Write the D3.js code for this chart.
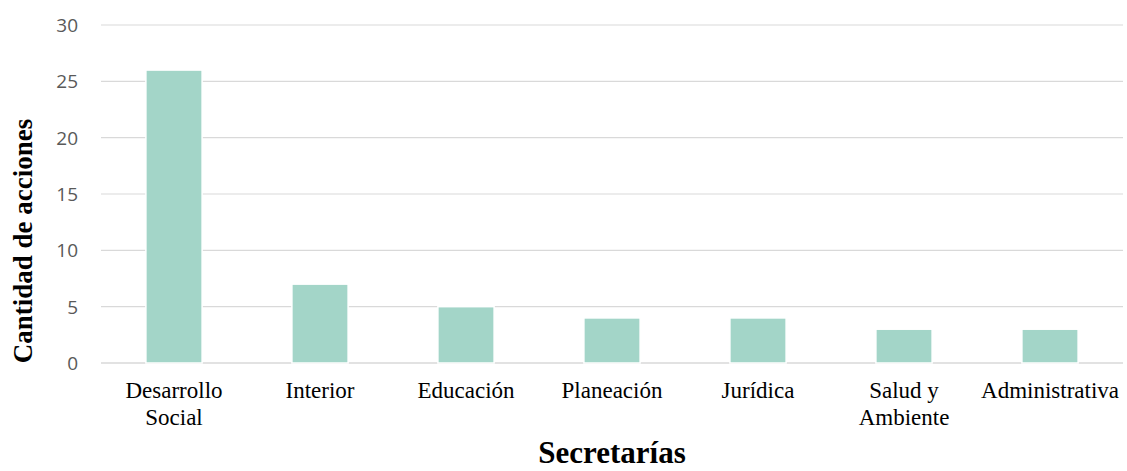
<!DOCTYPE html>
<html>
<head>
    <meta charset="utf-8">
    <title>Secretarías</title>
    <script src="https://cdnjs.cloudflare.com/ajax/libs/d3/7.8.5/d3.min.js"></script>
</head>
<body style="margin:0">
<style>
    body { background: #fff; }
    .ytick text { font-family: "Open Sans", sans-serif; font-size: 19px; fill: #595959; }
    .xlab { font-family: "Liberation Serif", "Times New Roman", serif; font-size: 23px; fill: #000; }
    .title { font-family: "Liberation Serif", "Times New Roman", serif; font-weight: bold; fill: #000; }
</style>
<script>
    const categories = [["Desarrollo", "Social"], ["Interior"], ["Educación"], ["Planeación"],
        ["Jurídica"], ["Salud y", "Ambiente"], ["Administrativa"]];
    const values = [26, 7, 5, 4, 4, 3, 3];
    const yTicks = [0, 5, 10, 15, 20, 25, 30];

    const W = 1127, H = 471;
    const margin = {top: 25, right: 4, bottom: 108, left: 101};

    const svg = d3.select("body").append("svg").attr("width", W).attr("height", H);
    const g = svg.append("g").attr("transform", `translate(${margin.left},${margin.top})`);
    const iw = W - margin.left - margin.right;
    const ih = H - margin.top - margin.bottom;

    const x = d3.scaleBand().domain(d3.range(categories.length)).range([0, iw]).paddingInner(0.615).paddingOuter(0.3075);
    const y = d3.scaleLinear().domain([0, 30]).range([ih, 0]);

    // gridlines
    g.selectAll(".grid").data(yTicks).enter().append("line")
        .attr("x1", 0).attr("x2", iw)
        .attr("y1", d => y(d)).attr("y2", d => y(d))
        .attr("stroke", "#d9d9d9").attr("stroke-width", d => d === 0 ? 1.5 : 1.2);

    const yt = g.selectAll(".ytick").data(yTicks).enter().append("g").attr("class", "ytick");
    yt.append("text").attr("x", -23).attr("y", d => y(d)).attr("dy", "0.36em")
        .attr("text-anchor", "end").text(d => d);

    g.selectAll(".bar").data(values).enter().append("rect")
        .attr("x", (d, i) => x(i)).attr("width", x.bandwidth())
        .attr("y", d => y(d)).attr("height", d => ih - y(d))
        .attr("fill", "#a3d5c8").attr("stroke", "#fff").attr("stroke-width", 1.5);

    const xl = g.selectAll(".xlab").data(categories).enter().append("text")
        .attr("class", "xlab").attr("text-anchor", "middle")
        .attr("transform", (d, i) => `translate(${x(i) + x.bandwidth() / 2},${ih + 35})`);
    xl.selectAll("tspan").data(d => d).enter().append("tspan")
        .attr("x", 0).attr("dy", (d, i) => i === 0 ? 0 : 27).text(d => d);

    svg.append("text").attr("class", "title").attr("font-size", 31)
        .attr("text-anchor", "middle").attr("x", 612).attr("y", 463).text("Secretarías");

    svg.append("text").attr("class", "title").attr("font-size", 27)
        .attr("text-anchor", "middle")
        .attr("transform", `translate(32,241) rotate(-90)`)
        .text("Cantidad de acciones");
</script>
</body>
</html>
